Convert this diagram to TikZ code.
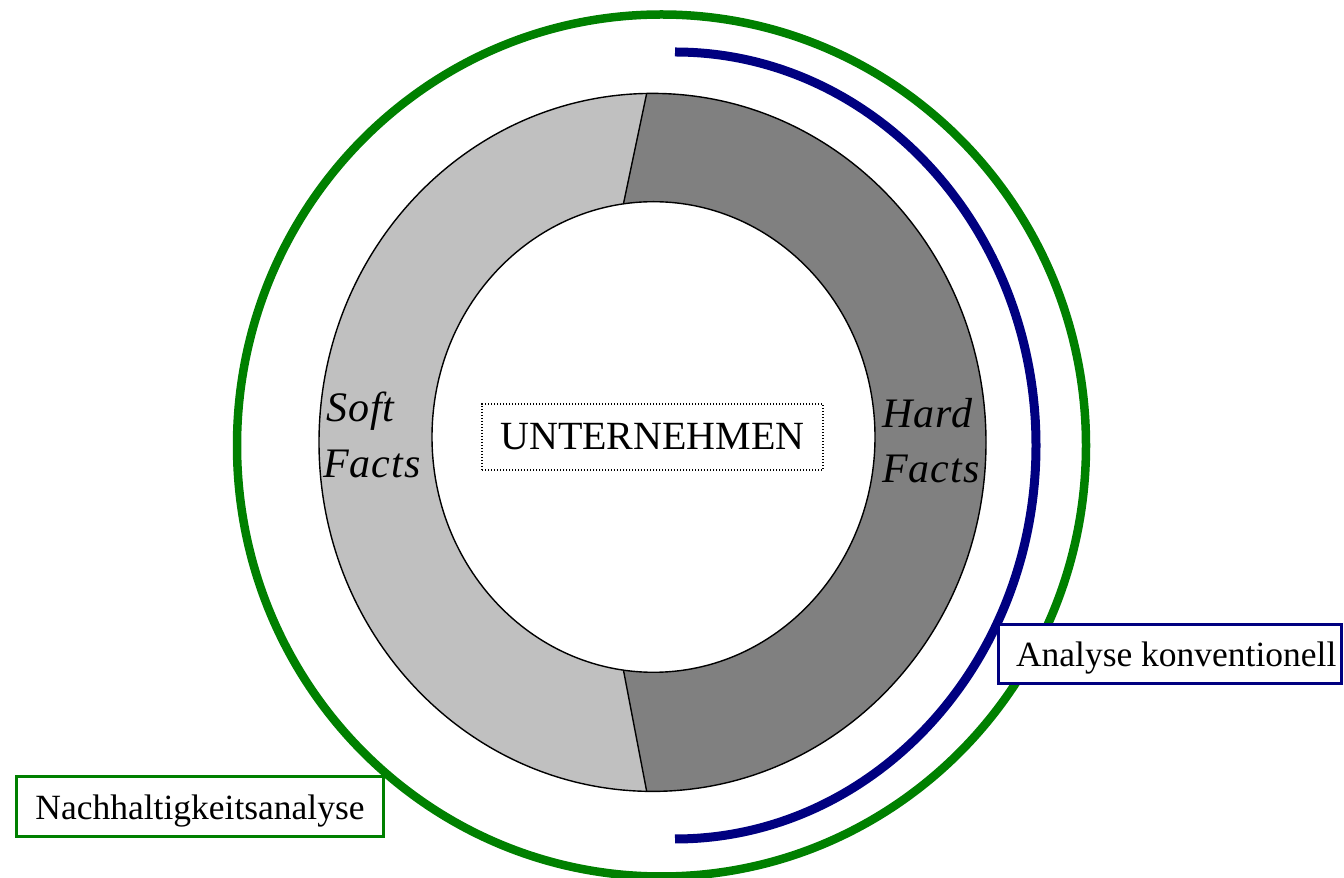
\documentclass[tikz,border=0pt]{standalone}
\usepackage{fontspec}
\setmainfont{Liberation Serif}
\newfontfamily\factfont[LetterSpace=2.5]{Liberation Serif}
\usetikzlibrary{calc}
\definecolor{ringlight}{RGB}{192,192,192}
\definecolor{ringdark}{RGB}{128,128,128}
\definecolor{nachgreen}{RGB}{0,128,0}
\definecolor{konvblue}{RGB}{0,0,128}
\begin{document}
\begin{tikzpicture}[x=1pt,y=1pt,
  ringline/.style={draw=black, line width=1.4pt},
  greenring/.style={draw=nachgreen, line width=8.5pt},
  bluearc/.style={draw=konvblue, line width=9pt, line cap=butt},
  unterbox/.style={draw=black, line width=1.2pt, dash pattern=on 1.3pt off 1.7pt, fill=white,
    minimum width=341pt, minimum height=66pt, inner sep=0pt,
    font=\fontsize{40}{46}\selectfont},
  facttext/.style={inner sep=0pt, anchor=base west, font=\factfont\fontsize{42}{50}\selectfont\itshape},
  labelbox/.style={line width=3pt, fill=white, inner sep=0pt,
    font=\fontsize{35.5}{40}\selectfont},
]
\useasboundingbox (0,0) rectangle (1344,878);

% centres of the ring
\coordinate (oc) at (652.5,435.6);
\coordinate (ic) at (653.5,441);
\coordinate (otop) at ($(oc)+(91:333.5 and 349)$);
\coordinate (obot) at ($(oc)+(-91:333.5 and 349)$);
\coordinate (itop) at ($(ic)+(97.8:221.5 and 235.3)$);
\coordinate (ibot) at ($(ic)+(-97.8:221.5 and 235.3)$);

% ring fills
\fill[ringlight] (oc) ellipse [x radius=333.5, y radius=349];
\fill[ringdark] (otop) arc[start angle=91, end angle=-91, x radius=333.5, y radius=349]
  -- (ibot) arc[start angle=-97.8, end angle=97.8, x radius=221.5, y radius=235.3] -- cycle;
\fill[white] (ic) ellipse [x radius=221.5, y radius=235.3];

% ring outlines
\draw[ringline] (oc) ellipse [x radius=333.5, y radius=349];
\draw[ringline] (ic) ellipse [x radius=221.5, y radius=235.3];
\draw[ringline] (otop) -- (itop);
\draw[ringline] (obot) -- (ibot);

% outer green ellipse
\coordinate (gc) at (661.5,432.5);
\draw[greenring] (gc) ellipse [x radius=424.5, y radius=431];

% blue arc
\coordinate (bstart) at (675,826);
\draw[bluearc] (bstart) arc[start angle=90, end angle=-90, x radius=361, y radius=393.5];

% texts
\node[unterbox] (unter) at (652.5,441) {UNTERNEHMEN};
\node[facttext] (soft1) at (326,456) {Soft};
\node[facttext] (soft2) at (323,400) {Facts};
\node[facttext] (hard1) at (882,450) {Hard};
\node[facttext] (hard2) at (882,395) {Facts};

% label boxes
\node[labelbox, draw=nachgreen, minimum width=367pt, minimum height=60.3pt,
  text height=26.8pt, text depth=0pt] (nach) at (200,71.4) {Nachhaltigkeitsanalyse};
\node[labelbox, draw=konvblue, minimum height=59.5pt,
  text height=25.8pt, text depth=0pt] (konv) at (1169.5,224.2)
  {\makebox[343pt][l]{\hspace*{18pt}Analyse konventionell}};
\end{tikzpicture}
\end{document}
